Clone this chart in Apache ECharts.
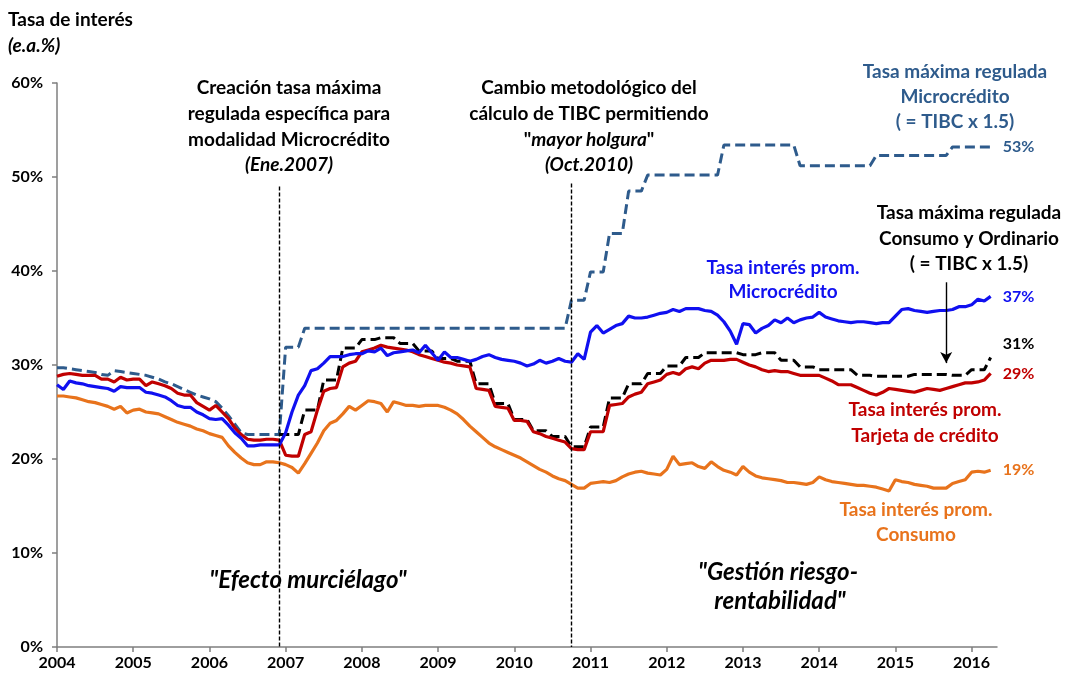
<!DOCTYPE html>
<html>
<head>
<meta charset="utf-8">
<script src="https://cdn.jsdelivr.net/npm/echarts@6/dist/echarts.min.js"></script>
<style>
  html, body { margin: 0; padding: 0; background: #fff; }
  #chart { width: 1070px; height: 677px; }
</style>
</head>
<body>
<div id="chart"></div>
<script>
// categorias mensuales ene.2004 - may.2016
const months = [];
for (let y = 2004; y <= 2016; y++) {
  for (let m = 1; m <= 12; m++) {
    if (y === 2016 && m > 5) break;
    months.push(y + '-' + (m < 10 ? '0' + m : m));
  }
}

// Tasa maxima regulada Microcredito (antes de 2007: usura general)
const maxMicro = [
  29.7, 29.7, 29.6, 29.5, 29.4, 29.3, 29.2, 29.0, 28.9, 29.4, 29.3, 29.2, // 2004
  29.1, 29.0, 28.9, 28.7, 28.5, 28.2, 28.0, 27.7, 27.4, 27.1, 26.8, 26.6, // 2005
  26.4, 26.1, 25.4, 24.6, 23.7, 22.8, 22.6, 22.6, 22.6, 22.6, 22.6, 22.6, // 2006
  31.9, 31.9, 31.9, 33.9, 33.9, 33.9, 33.9, 33.9, 33.9, 33.9, 33.9, 33.9, // 2007
  33.9, 33.9, 33.9, 33.9, 33.9, 33.9, 33.9, 33.9, 33.9, 33.9, 33.9, 33.9, // 2008
  33.9, 33.9, 33.9, 33.9, 33.9, 33.9, 33.9, 33.9, 33.9, 33.9, 33.9, 33.9, // 2009
  33.9, 33.9, 33.9, 33.9, 33.9, 33.9, 33.9, 33.9, 33.9, 36.9, 36.9, 36.9, // 2010
  39.9, 39.9, 39.9, 44.0, 44.0, 44.0, 48.5, 48.5, 48.5, 50.2, 50.2, 50.2, // 2011
  50.2, 50.2, 50.2, 50.2, 50.2, 50.2, 50.2, 50.2, 50.2, 53.4, 53.4, 53.4, // 2012
  53.4, 53.4, 53.4, 53.4, 53.4, 53.4, 53.4, 53.4, 53.4, 51.2, 51.2, 51.2, // 2013
  51.2, 51.2, 51.2, 51.2, 51.2, 51.2, 51.2, 51.2, 51.2, 52.3, 52.3, 52.3, // 2014
  52.3, 52.3, 52.3, 52.3, 52.3, 52.3, 52.3, 52.3, 52.3, 53.2, 53.2, 53.2, // 2015
  53.2, 53.2, 53.2, 53.2                                                  // 2016
];

// Tasa maxima regulada Consumo y Ordinario
const maxConsumo = [
  null, null, null, null, null, null, null, null, null, null, null, null, // 2004
  null, null, null, null, null, null, null, null, null, null, null, null, // 2005
  null, null, null, null, null, null, null, null, null, null, null, 22.6, // 2006
  22.6, 22.6, 22.6, 25.2, 25.2, 25.2, 28.4, 28.4, 28.4, 31.8, 31.8, 31.8, // 2007
  32.7, 32.7, 32.7, 32.9, 32.9, 32.9, 32.3, 32.3, 32.3, 31.5, 31.5, 31.5, // 2008
  30.7, 30.7, 30.7, 30.4, 30.4, 30.4, 28.0, 28.0, 28.0, 25.9, 25.9, 25.9, // 2009
  24.2, 24.2, 24.2, 23.0, 23.0, 23.0, 22.4, 22.4, 22.4, 21.3, 21.3, 21.3, // 2010
  23.4, 23.4, 23.4, 26.5, 26.5, 26.5, 28.0, 28.0, 28.0, 29.1, 29.1, 29.1, // 2011
  29.9, 29.9, 29.9, 30.8, 30.8, 30.8, 31.3, 31.3, 31.3, 31.3, 31.3, 31.3, // 2012
  31.1, 31.1, 31.1, 31.3, 31.3, 31.3, 30.5, 30.5, 30.5, 29.8, 29.8, 29.8, // 2013
  29.5, 29.5, 29.5, 29.5, 29.5, 29.5, 28.9, 28.9, 28.9, 28.8, 28.8, 28.8, // 2014
  28.8, 28.8, 28.8, 29.0, 29.0, 29.0, 29.0, 29.0, 29.0, 28.9, 28.9, 28.9, // 2015
  29.5, 29.5, 29.5, 30.8                                                  // 2016
];

// Tasa interes prom. Tarjeta de credito
const tarjeta = [
  28.8, 29.0, 29.1, 29.0, 28.9, 28.9, 28.9, 28.5, 28.5, 28.2, 28.7, 28.4, // 2004
  28.5, 28.5, 27.8, 28.2, 28.0, 27.8, 27.5, 27.0, 26.8, 26.8, 26.0, 25.6, // 2005
  25.2, 25.7, 25.0, 24.3, 23.3, 22.6, 22.1, 22.0, 22.0, 22.1, 22.1, 22.0, // 2006
  20.4, 20.3, 20.3, 22.6, 22.9, 25.2, 27.2, 27.5, 27.6, 29.8, 30.2, 30.4, // 2007
  31.4, 31.6, 31.8, 32.1, 31.9, 31.8, 31.7, 31.6, 31.4, 31.1, 30.9, 30.7, // 2008
  30.5, 30.3, 30.2, 30.0, 29.9, 29.8, 27.5, 27.4, 27.3, 25.6, 25.5, 25.4, // 2009
  24.1, 24.1, 24.0, 22.9, 22.7, 22.4, 22.2, 22.0, 21.8, 21.1, 21.0, 21.0, // 2010
  22.9, 22.9, 22.9, 25.7, 25.8, 25.9, 26.6, 26.9, 27.1, 28.0, 28.2, 28.4, // 2011
  29.0, 29.2, 29.0, 29.6, 29.8, 29.6, 30.2, 30.5, 30.5, 30.5, 30.6, 30.6, // 2012
  30.3, 30.0, 29.8, 29.5, 29.3, 29.4, 29.3, 29.3, 29.1, 28.9, 28.9, 28.9, // 2013
  28.9, 28.6, 28.3, 27.9, 27.9, 27.9, 27.6, 27.3, 27.0, 26.8, 27.1, 27.5, // 2014
  27.4, 27.3, 27.2, 27.1, 27.3, 27.5, 27.4, 27.3, 27.5, 27.7, 27.9, 28.1, // 2015
  28.1, 28.2, 28.4, 29.1                                                  // 2016
];

// Tasa interes prom. Microcredito
const micro = [
  27.9, 27.4, 28.3, 28.1, 28.0, 27.8, 27.7, 27.6, 27.5, 27.2, 27.7, 27.6, // 2004
  27.6, 27.6, 27.1, 27.0, 26.8, 26.6, 26.2, 25.7, 25.5, 25.5, 25.0, 24.7, // 2005
  24.3, 24.2, 24.3, 23.6, 22.8, 22.2, 21.4, 21.4, 21.5, 21.5, 21.5, 21.5, // 2006
  22.8, 25.0, 26.8, 27.8, 29.4, 29.6, 30.2, 30.9, 30.9, 30.9, 31.1, 31.2, // 2007
  31.2, 31.5, 31.4, 31.8, 31.0, 31.3, 31.4, 31.5, 31.6, 31.3, 32.1, 31.3, // 2008
  30.5, 31.4, 30.8, 30.8, 30.6, 30.4, 30.6, 30.9, 31.1, 30.8, 30.6, 30.5, // 2009
  30.4, 30.2, 29.9, 30.1, 30.5, 30.2, 30.4, 30.7, 30.4, 30.3, 31.2, 30.6, // 2010
  33.5, 34.2, 33.4, 33.8, 34.2, 34.4, 35.2, 35.0, 35.0, 35.1, 35.3, 35.5, // 2011
  35.6, 35.9, 35.7, 36.0, 36.0, 36.0, 35.8, 35.7, 35.3, 34.6, 33.6, 32.2, // 2012
  34.4, 34.3, 33.4, 33.9, 34.2, 34.8, 34.5, 35.0, 34.5, 34.8, 35.0, 35.1, // 2013
  35.6, 35.1, 34.9, 34.7, 34.6, 34.5, 34.6, 34.6, 34.5, 34.4, 34.5, 34.5, // 2014
  35.2, 35.9, 36.0, 35.8, 35.7, 35.6, 35.7, 35.8, 35.8, 35.9, 36.2, 36.2, // 2015
  36.4, 37.0, 36.8, 37.3                                                  // 2016
];

// Tasa interes prom. Consumo
const consumo = [
  26.7, 26.7, 26.6, 26.5, 26.3, 26.1, 26.0, 25.8, 25.6, 25.3, 25.6, 24.9, // 2004
  25.2, 25.3, 25.0, 24.9, 24.8, 24.5, 24.2, 23.9, 23.7, 23.5, 23.2, 23.0, // 2005
  22.7, 22.5, 22.3, 21.4, 20.7, 20.1, 19.6, 19.4, 19.4, 19.7, 19.7, 19.6, // 2006
  19.4, 19.1, 18.5, 19.5, 20.6, 21.7, 23.0, 23.8, 24.1, 24.8, 25.6, 25.2, // 2007
  25.7, 26.2, 26.1, 25.9, 25.0, 26.1, 25.9, 25.7, 25.7, 25.6, 25.7, 25.7, // 2008
  25.7, 25.5, 25.2, 24.8, 24.2, 23.5, 22.9, 22.3, 21.7, 21.3, 21.0, 20.7, // 2009
  20.4, 20.1, 19.7, 19.3, 18.9, 18.6, 18.2, 17.9, 17.7, 17.3, 16.9, 16.9, // 2010
  17.4, 17.5, 17.6, 17.5, 17.7, 18.1, 18.4, 18.6, 18.7, 18.5, 18.4, 18.3, // 2011
  18.9, 20.3, 19.4, 19.5, 19.6, 19.2, 19.0, 19.7, 19.2, 18.8, 18.6, 18.3, // 2012
  19.2, 18.6, 18.2, 18.0, 17.9, 17.8, 17.7, 17.5, 17.5, 17.4, 17.3, 17.5, // 2013
  18.1, 17.8, 17.6, 17.5, 17.4, 17.3, 17.2, 17.2, 17.1, 17.0, 16.8, 16.6, // 2014
  17.8, 17.6, 17.5, 17.3, 17.2, 17.1, 16.9, 16.9, 16.9, 17.4, 17.6, 17.8, // 2015
  18.6, 18.7, 18.6, 18.8                                                  // 2016
];

// hitos: Ene.2007 y Oct.2010 (indice de mes) y altura superior de la linea
const eventIdx = [35, 81];
const eventTop = [49.0, 49.3];
// flecha hacia la tasa maxima de consumo
const arrowIdx = 140;
const arrowFrom = 38.8;
const arrowTo = 30.2;

const C_DARK = '#2E5B8C';
const C_BLUE = '#1010F0';
const C_RED = '#C00000';
const C_ORANGE = '#E8731C';
const FONT = 'Lato, "Open Sans", sans-serif';
const F_NOTE = 'bold 19px ' + FONT;
const F_NOTE_I = 'italic bold 19px ' + FONT;
const F_BIG_I = 'italic bold 24px ' + FONT;

const chart = echarts.init(document.getElementById('chart'));

function endLbl(color, offset) {
  return {
    show: true,
    distance: 12,
    offset: offset || [0, 0],
    color: color,
    fontFamily: FONT,
    fontWeight: 'bold',
    fontSize: 16,
    formatter: (p) => Math.round(p.value) + '%',
  };
}

function txt(x, y, text, color, font) {
  return {
    type: 'text',
    x: x,
    y: y,
    style: {
      text: text,
      fill: color || '#000',
      font: font || F_NOTE,
      textAlign: 'center',
      textVerticalAlign: 'middle',
    },
  };
}

const option = {
  animation: false,
  grid: { left: 57, right: 73, top: 83, bottom: 30 },
  xAxis: {
    type: 'category',
    data: months,
    boundaryGap: false,
    axisLine: { lineStyle: { color: '#7f7f7f', width: 1.5 } },
    axisTick: {
      interval: (i) => i % 12 === 0,
      length: 5,
      lineStyle: { color: '#7f7f7f', width: 1.5 },
    },
    axisLabel: {
      interval: (i) => i % 12 === 0,
      formatter: (v) => v.substring(0, 4),
      color: '#000',
      fontFamily: FONT,
      fontWeight: 'bold',
      fontSize: 16,
      margin: 8,
    },
    splitLine: { show: false },
  },
  yAxis: {
    type: 'value',
    min: 0,
    max: 60,
    interval: 10,
    axisLine: { show: true, lineStyle: { color: '#7f7f7f', width: 1.5 } },
    axisTick: { show: true, length: 5, lineStyle: { color: '#7f7f7f', width: 1.5 } },
    axisLabel: {
      formatter: '{value}%',
      color: '#000',
      fontFamily: FONT,
      fontWeight: 'bold',
      fontSize: 16,
      margin: 14,
    },
    splitLine: { show: false },
  },
  series: [
    {
      name: 'Tasa máxima regulada Microcrédito',
      type: 'line',
      data: maxMicro,
      symbol: 'none',
      lineStyle: { color: C_DARK, width: 3, type: [10, 5] },
      endLabel: endLbl(C_DARK),
      markLine: {
        silent: true,
        symbol: 'none',
        label: { show: false },
        lineStyle: { color: '#000', width: 1.4, type: [4, 2] },
        data: eventIdx.map((idx, k) => [
          { coord: [months[idx], eventTop[k]] },
          { coord: [months[idx], 0] },
        ]),
      },
    },
    {
      name: 'Tasa máxima regulada Consumo y Ordinario',
      type: 'line',
      data: maxConsumo,
      symbol: 'none',
      lineStyle: { color: '#000', width: 3, type: [10, 5] },
      endLabel: endLbl('#000', [0, -14]),
      markLine: {
        silent: true,
        symbol: ['none', 'arrow'],
        symbolSize: [9, 11],
        label: { show: false },
        lineStyle: { color: '#000', width: 1.4, type: 'solid' },
        data: [[
          { coord: [months[arrowIdx], arrowFrom] },
          { coord: [months[arrowIdx], arrowTo] },
        ]],
      },
    },
    {
      name: 'Tasa interés prom. Tarjeta de crédito',
      type: 'line',
      data: tarjeta,
      symbol: 'none',
      lineStyle: { color: C_RED, width: 3.2 },
      endLabel: endLbl(C_RED),
    },
    {
      name: 'Tasa interés prom. Microcrédito',
      type: 'line',
      data: micro,
      symbol: 'none',
      lineStyle: { color: C_BLUE, width: 3.2 },
      endLabel: endLbl(C_BLUE),
    },
    {
      name: 'Tasa interés prom. Consumo',
      type: 'line',
      data: consumo,
      symbol: 'none',
      lineStyle: { color: C_ORANGE, width: 3.2 },
      endLabel: endLbl(C_ORANGE),
    },
  ],
  graphic: [
    Object.assign(txt(8, 20, 'Tasa de interés', '#000', 'bold 19px ' + FONT), {}),
    txt(8, 46, '(e.a.%)', '#000', 'italic bold 19px ' + FONT),

    txt(289, 88, 'Creación tasa máxima'),
    txt(289, 114, 'regulada específica para'),
    txt(289, 140, 'modalidad Microcrédito'),
    txt(289, 165, '(Ene.2007)', '#000', F_NOTE_I),

    txt(589, 88, 'Cambio metodológico del'),
    txt(589, 114, 'cálculo de TIBC permitiendo'),
    {
      type: 'text',
      x: 589,
      y: 140,
      style: {
        text: '{n|"}{i|mayor holgura}{n|"}',
        textAlign: 'center',
        textVerticalAlign: 'middle',
        rich: {
          n: { font: F_NOTE, fill: '#000' },
          i: { font: F_NOTE_I, fill: '#000' },
        },
      },
    },
    txt(589, 165, '(Oct.2010)', '#000', F_NOTE_I),

    txt(955, 72, 'Tasa máxima regulada', C_DARK),
    txt(955, 97, 'Microcrédito', C_DARK),
    txt(955, 122, '( = TIBC x 1.5)', C_DARK),

    txt(969, 213, 'Tasa máxima regulada', '#000'),
    txt(969, 239, 'Consumo y Ordinario', '#000'),
    txt(969, 264, '( = TIBC x 1.5)', '#000'),

    txt(783, 268, 'Tasa interés prom.', C_BLUE),
    txt(783, 292, 'Microcrédito', C_BLUE),

    txt(925, 410, 'Tasa interés prom.', C_RED),
    txt(925, 436, 'Tarjeta de crédito', C_RED),

    txt(916, 510, 'Tasa interés prom.', C_ORANGE),
    txt(916, 535, 'Consumo', C_ORANGE),

    txt(308, 580, '"Efecto murciélago"', '#000', F_BIG_I),
    txt(778, 572, '"Gestión riesgo-', '#000', F_BIG_I),
    txt(780, 601, 'rentabilidad"', '#000', F_BIG_I),
  ],
};
// textos de titulo alineados a la izquierda
option.graphic[0].style.textAlign = 'left';
option.graphic[1].style.textAlign = 'left';

chart.setOption(option);
</script>
</body>
</html>
